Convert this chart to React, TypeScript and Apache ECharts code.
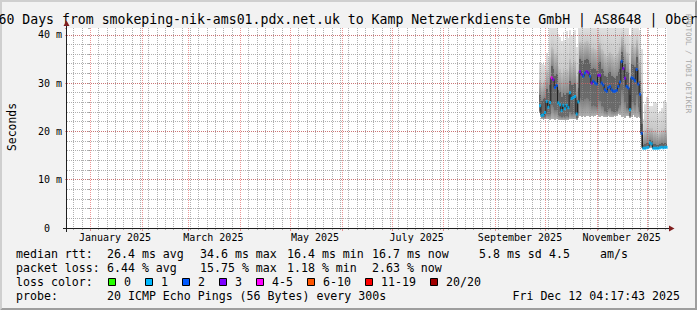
import React, { useEffect, useRef } from 'react';
import * as echarts from 'echarts';

// ---------- data (days counted from 2025-01-01) ----------
const FIRST_DAY = 270; // 2025-09-28, first day with measurements
const X_MIN = -13.8;
const X_MAX = 346.2;
const Y_MAX = 41.4;

// median round-trip time per day (ms)
const medianRtt = [
  25.3, 23.3, 23.4, 23.9, 26.2, 25.0, 26.0, 31.1, 30.7, 29.1,
  29.5, 25.9, 25.5, 24.3, 25.4, 24.7, 25.4, 24.9, 28.0, 26.8,
  27.0, 27.2, 23.6, 26.1, 32.4, 31.8, 31.4, 32.1, 32.4, 32.1,
  31.4, 30.0, 30.4, 30.0, 29.8, 31.6, 31.6, 30.0, 29.6, 28.6,
  28.3, 29.1, 29.3, 28.6, 28.3, 28.3, 28.5, 29.3, 30.2, 34.5,
  33.0, 31.0, 29.3, 29.0, 24.5, 31.1, 30.9, 30.5, 32.8, 29.8,
  27.7, 19.6, 16.5, 16.5, 16.6, 16.7, 17.6, 17.4, 16.5, 16.5,
  16.5, 16.5, 16.6, 16.7, 16.6, 16.7, 16.7,
];

// loss class per day (index into lossLabels)
const lossIndex = [
  1, 1, 1, 1, 1, 1, 1, 4, 3, 2,
  2, 1, 1, 1, 1, 1, 1, 1, 1, 1,
  1, 1, 1, 1, 3, 3, 2, 2, 3, 3,
  2, 3, 2, 2, 2, 3, 3, 2, 2, 2,
  2, 2, 2, 2, 2, 2, 2, 2, 2, 2,
  3, 3, 2, 2, 1, 2, 2, 2, 2, 2,
  2, 2, 1, 1, 1, 1, 1, 1, 1, 1,
  1, 1, 1, 1, 1, 1, 1,
];

// smoke: spread of the individual pings per day (ms)
const smokeMin = [
  23.8, 22.5, 22.4, 22.5, 22.6, 22.5, 22.4, 22.6, 22.5, 22.4,
  22.5, 22.4, 22.3, 22.3, 22.4, 22.3, 22.4, 22.3, 22.6, 22.5,
  22.5, 22.6, 22.3, 22.7, 23.2, 23.0, 23.1, 23.0, 23.2, 23.1,
  23.0, 23.1, 23.0, 23.2, 23.3, 23.1, 23.0, 23.1, 23.0, 22.9,
  23.0, 23.1, 23.0, 22.9, 23.0, 23.1, 23.2, 23.5, 23.3, 23.0,
  23.1, 22.8, 23.2, 23.1, 22.8, 23.0, 23.4, 23.0, 22.8, 23.0,
  22.8, 16.6, 16.4, 16.4, 16.5, 16.5, 16.6, 16.5, 16.4, 16.4,
  16.4, 16.4, 16.5, 16.5, 16.4, 16.5, 16.5,
];
const smokeLow = [
  24.3, 22.9, 22.9, 23.0, 23.6, 23.3, 23.5, 25.5, 25.0, 24.5,
  24.5, 23.3, 23.2, 23.0, 23.2, 23.0, 23.2, 23.0, 24.0, 23.6,
  23.8, 23.8, 22.8, 23.8, 27.0, 26.5, 26.2, 26.8, 27.0, 26.8,
  26.2, 25.2, 25.5, 25.2, 25.0, 26.3, 26.3, 25.2, 25.0, 24.3,
  24.0, 24.6, 24.8, 24.3, 24.0, 24.0, 24.2, 24.8, 25.5, 28.5,
  27.5, 26.0, 24.8, 24.6, 23.2, 26.0, 25.8, 25.5, 27.5, 25.0,
  24.0, 17.0, 16.6, 16.6, 16.7, 16.8, 17.2, 17.0, 16.6, 16.6,
  16.6, 16.6, 16.7, 16.8, 16.7, 16.8, 16.8,
];
const smokeHigh = [
  27.6, 26.2, 26.6, 27.0, 28.8, 28.0, 29.5, 33.5, 33.0, 31.5,
  31.8, 28.5, 28.2, 27.2, 28.0, 27.5, 28.0, 27.6, 30.5, 29.5,
  29.8, 30.0, 26.5, 29.0, 35.0, 34.5, 34.0, 34.8, 35.0, 34.8,
  34.2, 33.0, 33.2, 33.0, 32.6, 34.2, 34.4, 33.0, 32.5, 31.5,
  31.2, 32.0, 32.2, 31.5, 31.2, 31.0, 31.4, 32.2, 33.0, 36.5,
  35.5, 34.0, 32.2, 32.0, 27.5, 34.0, 33.8, 33.4, 35.5, 32.8,
  30.5, 21.5, 17.2, 17.4, 17.5, 17.4, 18.2, 18.0, 17.3, 17.4,
  17.2, 17.1, 17.3, 17.5, 17.4, 17.6, 17.4,
];
const smokeUpper = [
  30.6, 29.8, 30.2, 30.6, 32.8, 32.0, 35.5, 37.5, 37.0, 36.0,
  36.2, 33.5, 33.0, 32.0, 33.2, 32.5, 33.0, 32.6, 35.0, 34.0,
  34.5, 34.6, 31.5, 34.0, 38.5, 38.2, 38.0, 38.5, 38.8, 38.5,
  38.0, 37.2, 37.5, 37.0, 36.8, 38.0, 38.2, 37.0, 36.6, 36.0,
  35.6, 36.2, 36.5, 36.0, 35.6, 35.5, 36.0, 36.6, 37.4, 39.5,
  39.0, 38.0, 36.5, 36.2, 33.0, 38.0, 37.8, 37.5, 39.0, 37.0,
  35.0, 29.0, 19.5, 20.2, 20.6, 20.4, 20.8, 20.6, 20.0, 20.3,
  19.8, 19.4, 19.8, 20.2, 20.2, 20.6, 20.2,
];
const smokeMax = [
  34.4, 34.0, 34.3, 33.8, 36.2, 35.4, 41.4, 41.4, 41.4, 41.4,
  41.4, 40.2, 39.6, 38.8, 40.5, 39.0, 40.8, 39.4, 41.0, 40.0,
  40.6, 41.0, 37.5, 41.4, 41.4, 41.4, 41.4, 41.4, 41.4, 41.4,
  41.4, 41.4, 41.4, 41.4, 41.4, 41.4, 41.4, 41.4, 41.4, 41.4,
  41.4, 41.4, 41.4, 41.4, 41.4, 41.4, 41.4, 41.4, 41.4, 41.4,
  41.4, 41.4, 41.4, 41.4, 40.0, 41.4, 41.4, 41.4, 41.4, 41.4,
  41.0, 37.0, 22.6, 25.6, 27.2, 26.8, 25.3, 25.2, 25.9, 26.0,
  25.8, 23.9, 24.2, 24.9, 26.2, 26.5, 26.0,
];

// axis / grid ticks
const monthStarts = [0, 31, 59, 90, 120, 151, 181, 212, 243, 273, 304, 334];
const monthLabelDays = [15, 74, 135, 196, 258, 319];
const monthLabels = ['January 2025', 'March 2025', 'May 2025', 'July 2025', 'September 2025', 'November 2025'];
const MINOR_STEP = 5;

// legend
const lossLabels = ['0', '1', '2', '3', '4-5', '6-10', '11-19', '20/20'];
const lossColors = ['#26ff00', '#00b8ff', '#0059ff', '#7e00ff', '#ff00ff', '#ff5500', '#ff0000', '#a10000'];
const rttLine = ['median rtt:', '26.4 ms avg', '34.6 ms max', '16.4 ms min', '16.7 ms now', '5.8 ms sd', '4.5', 'am/s'];
const lossLine = ['packet loss:', '6.44 % avg', '15.75 % max', '1.18 % min', '2.63 % now'];
const probeLine = ['probe:', '20 ICMP Echo Pings (56 Bytes) every 300s'];
const STAMP = 'Fri Dec 12 04:17:43 2025';
const TITLE = '360 Days from smokeping-nik-ams01.pdx.net.uk to Kamp Netzwerkdienste GmbH | AS8648 | Ober';

// ---------- layout ----------
const W = 697;
const H = 310;
const GRID = { left: 67, top: 28, width: 600, height: 200 };
const MONO = '"DejaVu Sans Mono", monospace';
const rttX = [16, 107, 200, 287, 372, 479, 549, 600];
const lossX = [16, 107, 200, 287, 372];
const probeX = [16, 107];
const lineY = [253.5, 268, 282, 296.3];
// shade of each smoke band: [top colour, bottom colour]
const smokeShades: [string, string][] = [
  ['#7c7c7c', '#b2b2b2'],
  ['#606060', '#6c6c6c'],
  ['#c0c0c0', '#868686'],
  ['#e0e0e0', '#c8c8c8'],
];
const GRID_GRAY = 'rgba(143,143,143,0.7)';
const GRID_RED = 'rgba(222,79,79,0.6)';

function buildOption(): any {
  const xs = medianRtt.map((_, i) => FIRST_DAY + i);
  const fills = smokeShades.map(
    ([top, bottom]) =>
      new echarts.graphic.LinearGradient(0, 0, 0, 1, [
        { offset: 0, color: top },
        { offset: 1, color: bottom },
      ])
  );

  const smokeSeries = {
    type: 'custom',
    name: 'smoke',
    silent: true,
    clip: true,
    z: 2,
    data: xs.map((x, i) => [x, smokeMin[i], smokeLow[i], smokeHigh[i], smokeUpper[i], smokeMax[i]]),
    encode: { x: 0, y: [1, 2, 3, 4, 5] },
    renderItem: (params: any, api: any) => {
      const d = api.value(0);
      const xl = Math.round(api.coord([d - 0.5, 0])[0]);
      const xr = Math.round(api.coord([d + 0.5, 0])[0]);
      const ys = [1, 2, 3, 4, 5].map((k) => Math.round(api.coord([d, api.value(k)])[1]));
      const children: any[] = [];
      for (let b = 0; b < 4; b++) {
        const top = ys[b + 1];
        const bot = ys[b];
        if (bot - top <= 0) continue;
        children.push({
          type: 'rect',
          shape: { x: xl, y: top, width: xr - xl, height: bot - top },
          style: { fill: fills[b] },
        });
      }
      return { type: 'group', children };
    },
  };

  const minorDays = Array.from({ length: 72 }, (_, k) => -10 + MINOR_STEP * k).filter(
    (d) => d < X_MAX && monthStarts.indexOf(d) < 0
  );

  const vGrid = (days: number[], color: string, tick: number) => ({
    type: 'custom',
    silent: true,
    z: 3,
    data: days.map((d) => [d, 0]),
    encode: { x: 0, y: 1 },
    renderItem: (params: any, api: any) => {
      const x = Math.round(api.coord([api.value(0), 0])[0]) + 0.5;
      const cs = params.coordSys;
      const bottom = cs.y + cs.height;
      return {
        type: 'group',
        children: [
          { type: 'line', shape: { x1: x, y1: cs.y, x2: x, y2: bottom }, style: { stroke: color, lineWidth: 1, lineDash: [1, 1] } },
          { type: 'line', shape: { x1: x, y1: bottom, x2: x, y2: bottom + tick }, style: { stroke: color, lineWidth: 1 } },
        ],
      };
    },
  });

  const monthLabelSeries = {
    type: 'custom',
    silent: true,
    z: 3,
    data: monthLabelDays.map((d) => [d, 0]),
    encode: { x: 0, y: 1 },
    renderItem: (params: any, api: any) => {
      const x = api.coord([api.value(0), 0])[0];
      const cs = params.coordSys;
      return {
        type: 'text',
        x,
        y: cs.y + cs.height + 9,
        style: {
          text: monthLabels[params.dataIndex],
          fill: '#000',
          fontSize: 10,
          fontFamily: MONO,
          align: 'center',
          verticalAlign: 'middle',
        },
      };
    },
  };

  const text = (t: string, x: number, y: number, extra: any = {}) => ({
    type: 'text',
    x,
    y,
    z: 20,
    silent: true,
    ...extra,
    style: {
      text: t,
      fill: '#000',
      fontSize: 11.6,
      fontFamily: MONO,
      align: 'left',
      verticalAlign: 'middle',
      ...(extra.style || {}),
    },
  });

  const graphics: any[] = [];
  // 3d frame
  graphics.push({
    type: 'polygon', z: 20, silent: true,
    shape: { points: [[0, H], [2, H - 2], [2, 2], [W - 2, 2], [W, 0], [0, 0]] },
    style: { fill: '#cfcfcf' },
  });
  graphics.push({
    type: 'polygon', z: 20, silent: true,
    shape: { points: [[2, H - 2], [W - 2, H - 2], [W - 2, 2], [W, 0], [W, H], [0, H]] },
    style: { fill: '#9e9e9e' },
  });
  // axes
  const x0 = GRID.left - 0.5;
  const y0 = GRID.top + GRID.height + 0.5;
  graphics.push({ type: 'line', z: 20, silent: true, shape: { x1: GRID.left - 4, y1: y0, x2: GRID.left + GRID.width + 4, y2: y0 }, style: { stroke: '#1f1f1f', lineWidth: 1 } });
  graphics.push({ type: 'line', z: 20, silent: true, shape: { x1: x0, y1: GRID.top + GRID.height + 4, x2: x0, y2: GRID.top - 4 }, style: { stroke: '#1f1f1f', lineWidth: 1 } });
  graphics.push({ type: 'polygon', z: 21, silent: true, shape: { points: [[GRID.left + GRID.width + 2, y0 - 3], [GRID.left + GRID.width + 2, y0 + 3], [GRID.left + GRID.width + 7.5, y0]] }, style: { fill: '#801f1f' } });
  graphics.push({ type: 'polygon', z: 21, silent: true, shape: { points: [[x0 - 3, GRID.top - 2], [x0 + 3, GRID.top - 2], [x0, GRID.top - 7.5]] }, style: { fill: '#801f1f' } });

  // title, unit label, watermark
  graphics.push(text(TITLE, -9.5, 19, { style: { fontSize: 13.2 } }));
  graphics.push(text('Seconds', 11.5, 127, { rotation: Math.PI / 2, style: { align: 'center', fontSize: 11.4 } }));
  graphics.push(text('RRDTOOL / TOBI OETIKER', 688, 14, { rotation: -Math.PI / 2, style: { fontSize: 7.5, fill: '#a8a8a8' } }));

  // legend lines
  rttLine.forEach((t, i) => graphics.push(text(t, rttX[i], lineY[0])));
  lossLine.forEach((t, i) => graphics.push(text(t, lossX[i], lineY[1])));
  graphics.push(text('loss color:', 16, lineY[2]));
  let bx = 108;
  lossLabels.forEach((lab, i) => {
    graphics.push({
      type: 'rect', z: 20, silent: true,
      shape: { x: bx + 0.5, y: 278.5, width: 7, height: 7 },
      style: { fill: lossColors[i], stroke: '#000', lineWidth: 1 },
    });
    graphics.push(text(lab, bx + 16, lineY[2]));
    bx += 16 + lab.length * 7 + 14;
  });
  probeLine.forEach((t, i) => graphics.push(text(t, probeX[i], lineY[3])));
  graphics.push(text(STAMP, 680, lineY[3], { style: { align: 'right' } }));

  const yAxisBase = {
    type: 'value',
    min: 0,
    max: Y_MAX,
    position: 'left',
    z: 3,
    axisLine: { show: false },
  };

  return {
    animation: false,
    backgroundColor: '#f2f2f2',
    grid: { ...GRID, show: true, backgroundColor: '#ffffff', borderWidth: 0 },
    xAxis: [
      {
        type: 'value',
        min: X_MIN,
        max: X_MAX,
        axisLine: { show: false },
        axisTick: { show: false },
        axisLabel: { show: false },
        splitLine: { show: false },
      },
    ],
    yAxis: [
      {
        ...yAxisBase,
        interval: 2,
        axisTick: { show: true, length: 2, lineStyle: { color: GRID_GRAY } },
        axisLabel: {
          color: '#000',
          fontFamily: MONO,
          fontSize: 10,
          margin: 5,
          formatter: (v: number) => {
            if (Math.abs(v % 10) > 1e-6) return '';
            if (v === 0) return '0\u00a0\u00a0';
            return `${v} m`;
          },
        },
        splitLine: { show: true, showMaxLine: false, showMinLine: false, lineStyle: { color: GRID_GRAY, width: 1, type: [1, 1] } },
      },
      {
        ...yAxisBase,
        interval: 10,
        axisTick: { show: true, length: 2, lineStyle: { color: GRID_RED } },
        axisLabel: { show: false },
        splitLine: { show: true, showMaxLine: false, showMinLine: false, lineStyle: { color: GRID_RED, width: 1, type: [1, 1] } },
      },
    ],
    graphic: { elements: graphics },
    series: [
      smokeSeries,
      vGrid(minorDays, GRID_GRAY, 2),
      vGrid(monthStarts, GRID_RED, 3),
      monthLabelSeries,
      {
        type: 'line',
        name: 'median',
        data: medianRtt.map((v, i) => [xs[i], v]),
        step: 'middle',
        symbol: 'none',
        silent: true,
        z: 4,
        lineStyle: { color: '#202020', width: 1 },
      },
      {
        type: 'scatter',
        name: 'loss',
        silent: true,
        z: 5,
        symbol: 'rect',
        symbolSize: [2, 3],
        data: medianRtt.map((v, i) => ({ value: [xs[i], v], itemStyle: { color: lossColors[lossIndex[i]] } })),
      },
    ],
  };
}

export default function App() {
  const ref = useRef<HTMLDivElement>(null);
  useEffect(() => {
    if (!ref.current) return;
    const chart = echarts.init(ref.current, null, { renderer: 'svg', width: W, height: H });
    chart.setOption(buildOption());
    return () => chart.dispose();
  }, []);
  return <div ref={ref} style={{ position: 'absolute', left: 0, top: 0, width: W, height: H }} />;
}
